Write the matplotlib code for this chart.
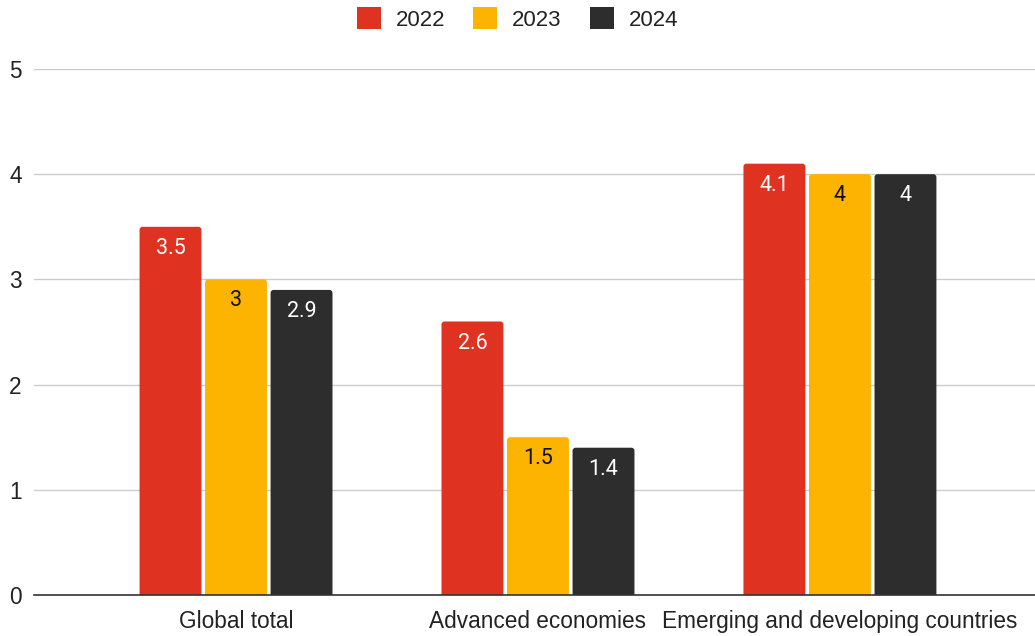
import matplotlib.pyplot as plt
from matplotlib.patches import Patch, FancyBboxPatch
import numpy as np

plt.rcParams['font.family'] = ['Liberation Sans', 'DejaVu Sans']

categories = ["Global total", "Advanced economies", "Emerging and developing countries"]
years = ["2022", "2023", "2024"]
growth_2022 = [3.5, 2.6, 4.1]
growth_2023 = [3.0, 1.5, 4.0]
growth_2024 = [2.9, 1.4, 4.0]

colors = ["#DF3220", "#FDB400", "#2D2D2D"]
label_colors = ["white", "#111111", "white"]

# corner radius of the bars, in x units, and the y/x stretch for it
CORNER = 0.0099
ASPECT = 2.87


def fmt(v):
    return f"{v:g}"


fig = plt.figure(figsize=(10.35, 6.36), dpi=100)
ax = fig.add_axes([34 / 1035, 1 - 595 / 636, 1 - 34 / 1035, (595 - 69) / 636])

x = np.arange(len(categories))
width = 0.205
step = 0.217
series = [growth_2022, growth_2023, growth_2024]

for i, (vals, col, lc) in enumerate(zip(series, colors, label_colors)):
    pos = x + (i - 1) * step
    bars = ax.bar(pos, vals, width=width, color=col, zorder=3)
    for b, v in zip(bars, vals):
        # swap the square bar for one with rounded top corners
        b.set_visible(False)
        pad = CORNER * ASPECT
        rb = FancyBboxPatch((b.get_x(), b.get_y() - pad), b.get_width(), b.get_height() + pad,
                            boxstyle=f"round,pad=0,rounding_size={CORNER}",
                            mutation_aspect=ASPECT, facecolor=col, edgecolor="none", zorder=3)
        ax.add_patch(rb)
        ax.annotate(fmt(v), (b.get_x() + b.get_width() / 2, b.get_height()),
                    xytext=(0, -15.5), textcoords="offset points",
                    ha="center", va="center", fontsize=15.5, color=lc,
                    family=["Roboto", "DejaVu Sans"], zorder=4)

ax.set_xlim(-0.669, 2.646)
ax.set_ylim(0, 5)
ax.set_yticks([0, 1, 2, 3, 4, 5])
ax.set_yticklabels(["0", "1", "2", "3", "4", "5"])
ax.set_xticks(x)
ax.set_xticklabels(categories)
ax.tick_params(axis="both", length=0, labelsize=16.3, colors="#222222")
ax.tick_params(axis="x", pad=10.5)
ax.tick_params(axis="y", pad=9)

ax.grid(axis="y", color="#CCCCCC", linewidth=1, zorder=0)
for s in ["top", "right", "left"]:
    ax.spines[s].set_visible(False)
ax.spines["bottom"].set_color("#333333")
ax.spines["bottom"].set_linewidth(1.2)
ax.spines["bottom"].set_zorder(5)

handles = [Patch(facecolor=c, label=y) for c, y in zip(colors, years)]
fig.legend(handles=handles, loc="center", bbox_to_anchor=(0.5, 1 - 19 / 636),
           ncol=3, frameon=False, fontsize=16, handlelength=1.08, handleheight=1.08,
           handletextpad=0.68, columnspacing=1.25, labelcolor="#222222")

fig.savefig("out.png", dpi=100)
